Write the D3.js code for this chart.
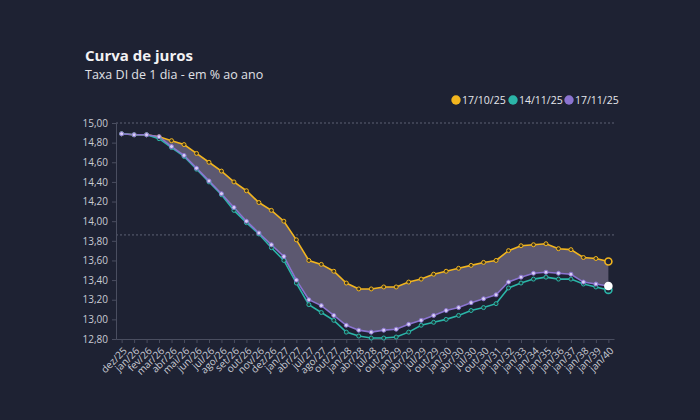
<!DOCTYPE html>
<html><head><meta charset="utf-8">
<script src="https://cdn.jsdelivr.net/npm/d3@7"></script>
<style>html,body{margin:0;padding:0;background:#1e2233;}svg{display:block;}</style>
</head><body>
<script>
const categories = ["dez/25","jan/26","fev/26","mar/26","abr/26","mai/26","jun/26","jul/26","ago/26","set/26","out/26","nov/26","dez/26","jan/27","abr/27","jul/27","ago/27","out/27","jan/28","abr/28","jul/28","out/28","jan/29","abr/29","jul/29","out/29","jan/30","abr/30","jul/30","out/30","jan/31","jan/32","jan/33","jan/34","jan/35","jan/36","jan/37","jan/38","jan/39","jan/40"];
const s171025 = [14.89,14.88,14.88,14.86,14.82,14.78,14.69,14.60,14.51,14.40,14.31,14.19,14.11,14.00,13.81,13.60,13.56,13.49,13.37,13.31,13.31,13.33,13.33,13.38,13.41,13.46,13.49,13.52,13.55,13.58,13.60,13.70,13.75,13.76,13.77,13.72,13.71,13.63,13.62,13.59];
const s141125 = [14.89,14.88,14.88,14.84,14.75,14.66,14.53,14.40,14.27,14.11,13.985,13.87,13.73,13.60,13.37,13.15,13.07,12.99,12.87,12.83,12.81,12.81,12.82,12.87,12.94,12.97,13.00,13.04,13.09,13.12,13.16,13.32,13.37,13.41,13.43,13.41,13.41,13.36,13.33,13.30];
const s171125 = [14.89,14.88,14.88,14.86,14.76,14.67,14.54,14.41,14.28,14.14,14.00,13.88,13.76,13.64,13.40,13.20,13.14,13.04,12.94,12.89,12.87,12.89,12.90,12.95,12.99,13.04,13.09,13.12,13.17,13.21,13.25,13.38,13.43,13.47,13.48,13.47,13.46,13.38,13.36,13.34];
const yTicks = [12.8,13.0,13.2,13.4,13.6,13.8,14.0,14.2,14.4,14.6,14.8,15.0];
const refLines = [15.0, 13.86];
const seriesNames = ["17/10/25","14/11/25","17/11/25"];
const seriesColors = ["#f2b51e","#2bb5a8","#8b74d0"];

const W=700,H=420;
const svg=d3.select("body").append("svg").attr("width",W).attr("height",H);
svg.append("rect").attr("width",W).attr("height",H).attr("fill","#1e2233");
const font="'Open Sans','Noto Sans',sans-serif";

const x=d3.scalePoint().domain(categories).range([116,614]).padding(0.45);
const y=d3.scaleLinear().domain([12.8,15]).range([339,123]);

// titles
svg.append("text").attr("x",85).attr("y",61).text("Curva de juros")
  .attr("fill","#f2f2f4").attr("font-family",font).attr("font-weight",700).attr("font-size",15);
svg.append("text").attr("x",85).attr("y",79).text("Taxa DI de 1 dia - em % ao ano")
  .attr("fill","#e0e1e6").attr("font-family",font).attr("font-size",12.5);

// legend
const legX=[456,513,569];
seriesNames.forEach((n,i)=>{
  svg.append("circle").attr("cx",legX[i]).attr("cy",100).attr("r",4.7).attr("fill",seriesColors[i]);
  svg.append("text").attr("x",legX[i]+6).attr("y",104).text(n)
    .attr("fill","#e6e7ec").attr("font-family",font).attr("font-size",10.5);
});

// ref lines
svg.selectAll(".ref").data(refLines).enter().append("line")
  .attr("x1",116).attr("x2",614).attr("y1",d=>y(d)).attr("y2",d=>y(d))
  .attr("stroke","#5d6174").attr("stroke-width",1).attr("stroke-dasharray","2,2");

// axes
const yAxis=svg.append("g").attr("transform","translate(116,0)")
  .call(d3.axisLeft(y).tickValues(yTicks).tickSize(4).tickPadding(4).tickFormat(d=>d.toFixed(2).replace(".",",")));
yAxis.selectAll("text").attr("fill","#c9cbd3").attr("font-family",font).attr("font-size",10);
yAxis.selectAll("line,path").attr("stroke","#4a4e60");

const xAxis=svg.append("g").attr("transform","translate(0,339)")
  .call(d3.axisBottom(x).tickSize(4).tickSizeOuter(0));
xAxis.selectAll("line,path").attr("stroke","#4a4e60");
xAxis.selectAll("text").attr("fill","#c9cbd3").attr("font-family",font).attr("font-size",10)
  .attr("text-anchor","end").attr("x",0).attr("y",0).attr("dy","0.35em")
  .attr("transform","translate(3,10) rotate(-45)");

// area between yellow and purple
const idx=d3.range(categories.length);
svg.append("path").datum(idx)
  .attr("d",d3.area().x(i=>x(categories[i])).y0(i=>y(s171125[i])).y1(i=>y(s171025[i])))
  .attr("fill","#5c5870");

const line=d3.line().x(i=>x(categories[i]));
const order=[[s171025,0],[s141125,1],[s171125,2]];
order.forEach(([vals,ci])=>{
  svg.append("path").datum(idx).attr("d",line.y(i=>y(vals[i])))
    .attr("fill","none").attr("stroke",seriesColors[ci]).attr("stroke-width",1.6);
});
const markerFill=["#3a3524","#1f3a3a","#d9cff5"];
order.forEach(([vals,ci])=>{
  svg.selectAll(null).data(idx).enter().append("circle")
    .attr("cx",i=>x(categories[i])).attr("cy",i=>y(vals[i]))
    .attr("r",i=>i===idx.length-1?3.5:2)
    .attr("fill",i=>i===idx.length-1?(ci===2?"#ffffff":"#1e2233"):markerFill[ci])
    .attr("stroke",i=>i===idx.length-1&&ci===2?"#ffffff":seriesColors[ci])
    .attr("stroke-width",i=>i===idx.length-1?1.6:1);
});
</script>
</body></html>
